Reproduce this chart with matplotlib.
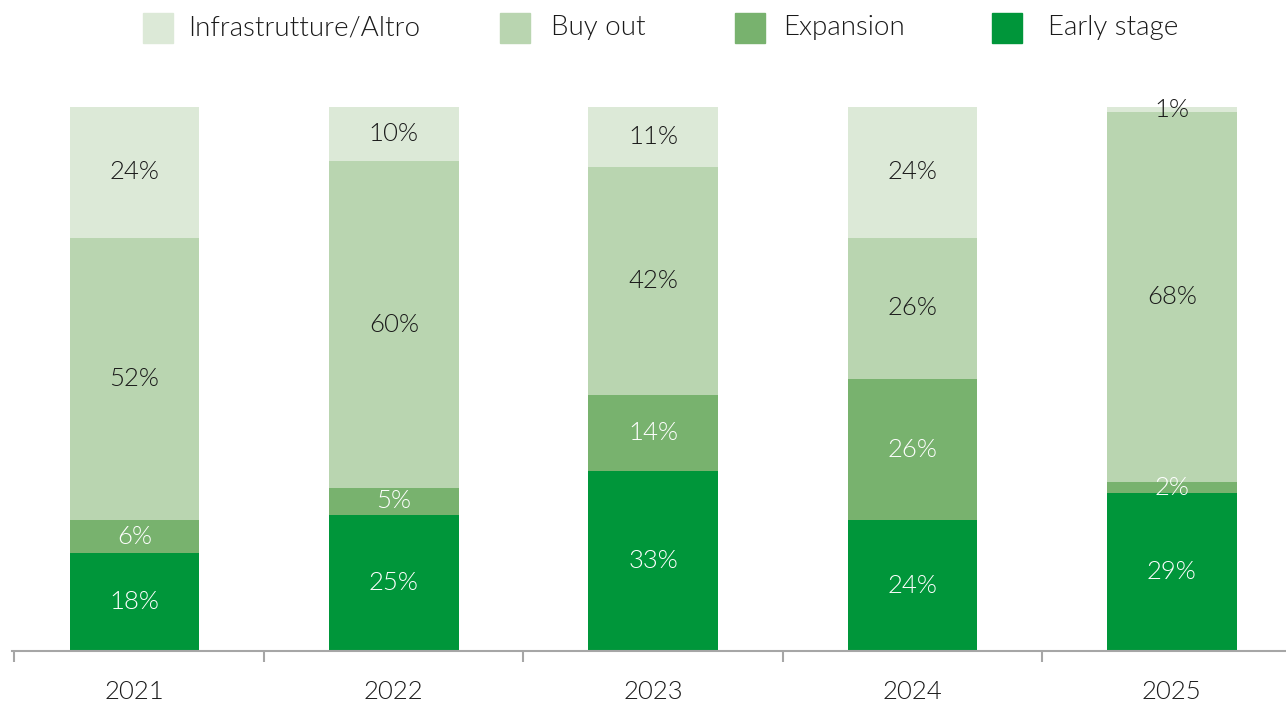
import matplotlib
matplotlib.use("Agg")
import matplotlib.pyplot as plt
from matplotlib.patches import Rectangle

years = ["2021", "2022", "2023", "2024", "2025"]
series_names = ["Early stage", "Expansion", "Buy out", "Infrastrutture/Altro"]
early_stage = [18, 25, 33, 24, 29]
expansion = [6, 5, 14, 26, 2]
buy_out = [52, 60, 42, 26, 68]
infra_altro = [24, 10, 11, 24, 1]

colors = ["#00963a", "#78b26e", "#b9d5b0", "#dce9d7"]
text_colors = ["white", "white", "#1a1a1a", "#1a1a1a"]

plt.rcParams["font.family"] = ["Lato", "DejaVu Sans"]
FW = 300

fig = plt.figure(figsize=(12.86, 7.04), dpi=100)
ax = fig.add_axes([12 / 1286, 53 / 704, 1 - 12 / 1286, 544 / 704])

x = list(range(len(years)))
bottoms = [0] * len(years)
for vals, col, tc in zip([early_stage, expansion, buy_out, infra_altro], colors, text_colors):
    ax.bar(x, vals, width=0.5, bottom=bottoms, color=col, edgecolor="none")
    for xi, v, b in zip(x, vals, bottoms):
        ax.text(xi, b + v / 2, f"{v}%", ha="center", va="center",
                fontsize=18.5, color=tc, fontweight=FW)
    bottoms = [b + v for b, v in zip(bottoms, vals)]

ax.set_xlim(-0.472, 4.44)
ax.set_ylim(0, 100)
for s in ["top", "right", "left"]:
    ax.spines[s].set_visible(False)
ax.spines["bottom"].set_color("#a6a6a6")
ax.spines["bottom"].set_linewidth(1.5)
ax.set_yticks([])
ax.set_xticks([-0.465, 0.5, 1.5, 2.5, 3.5])
ax.set_xticklabels([])
ax.tick_params(axis="x", length=8, width=1.5, color="#a6a6a6", direction="out")
for xi, y in zip(x, years):
    ax.text(xi, -7.5, y, ha="center", va="center", fontsize=18.5, color="#1a1a1a",
            fontweight=FW)

# Legend (manual)
leg_order = [3, 2, 1, 0]
sq_x = [143, 500, 735, 992]
tx_x = [188, 551, 783, 1048]
for i, px, tx in zip(leg_order, sq_x, tx_x):
    fig.patches.append(Rectangle((px / 1286, 1 - 43 / 704), 30 / 1286, 30 / 704,
                                 transform=fig.transFigure, color=colors[i], figure=fig))
    fig.text(tx / 1286, 1 - 28 / 704, series_names[i], ha="left", va="center",
             fontsize=20, color="#1a1a1a", fontweight=FW)

fig.savefig("out.png", dpi=100)
